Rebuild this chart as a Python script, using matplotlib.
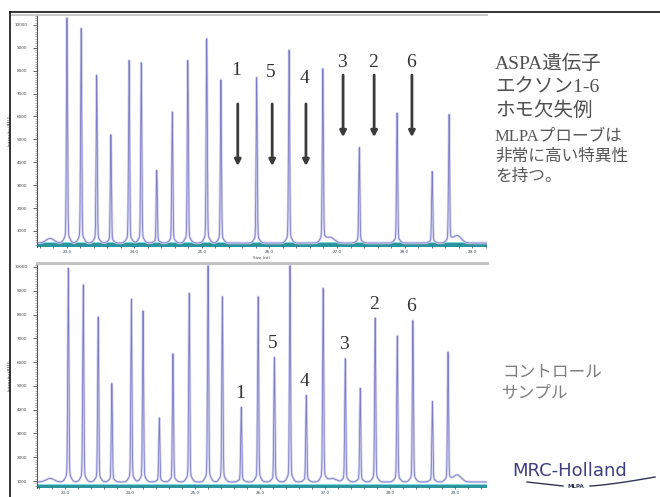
import numpy as np
import matplotlib.pyplot as plt
from matplotlib.lines import Line2D
from matplotlib.ticker import MultipleLocator, FixedLocator

# MLPA probe peaks, patient sample (ASPA exons 1-6 missing)
pat_pos = [23.00, 23.21, 23.44, 23.65, 23.92, 24.10, 24.33, 24.56, 24.79, 25.07, 25.28,
           25.81, 26.29, 26.79, 27.33, 27.89, 28.41, 28.66]
pat_height = [10300, 9850, 7800, 5200, 8450, 8350, 3650, 6200, 8450, 9400, 7600,
              7700, 8900, 8050, 4650, 6150, 3600, 6050]
pat_baseline = 476
# small bumps on the baseline
pat_minor_pos = [22.75, 26.90, 28.78]
pat_minor_height = [200, 250, 330]

# where the deleted exon probes would sit
del_exons = ['1', '5', '4', '3', '2', '6']
del_pos = [25.53, 26.04, 26.54, 27.09, 27.55, 28.11]

# MLPA probe peaks, control sample
ctrl_pos = [23.05, 23.28, 23.51, 23.72, 24.02, 24.20, 24.45, 24.66, 24.91, 25.20, 25.42,
            25.71, 25.97, 26.22, 26.46, 26.71, 26.97, 27.31, 27.54, 27.77, 28.11, 28.35,
            28.65, 28.89]
ctrl_height = [9950, 9250, 7900, 5100, 8650, 8150, 3650, 6350, 8900, 10050, 8750,
               4100, 8750, 6200, 10050, 4600, 9100, 6150, 4900, 7850, 7100, 7750,
               4350, 6400]
ctrl_baseline = 960
ctrl_minor_pos = [22.77, 27.11, 29.03]
ctrl_minor_height = [150, 150, 300]
ctrl_exons = ['1', '5', '4', '3', '2', '6']
ctrl_exon_peak = [11, 13, 15, 17, 19, 21]

y_ticks = [1000, 2000, 3000, 4000, 5000, 6000, 7000, 8000, 9000, 10000]
x_ticks = [23, 24, 25, 26, 27, 28, 29]


def trace(x, pos, height, base, mpos, mheight, unit):
    y = np.full_like(x, float(base))
    s1 = 0.55 / unit
    s2 = 2.5 / unit
    for p, h in zip(pos, height):
        a = h - base
        y += a * (0.96 * np.exp(-(x - p) ** 2 / (2 * s1 ** 2)) +
                  0.04 * np.exp(-(x - p) ** 2 / (2 * s2 ** 2)))
    for p, h in zip(mpos, mheight):
        y += h * np.exp(-(x - p) ** 2 / (2 * (4.0 / unit) ** 2))
    return y


def style_axis(ax, band_y):
    ax.spines['top'].set_visible(False)
    ax.spines['right'].set_visible(False)
    ax.spines['bottom'].set_visible(False)
    ax.spines['left'].set_color('#555555')
    ax.spines['left'].set_linewidth(0.8)
    ax.yaxis.set_major_locator(FixedLocator(y_ticks))
    ax.set_yticklabels([str(v) for v in y_ticks])
    ax.yaxis.set_minor_locator(MultipleLocator(100))
    ax.xaxis.set_major_locator(FixedLocator(x_ticks))
    ax.set_xticklabels(['%.1f' % v for v in x_ticks])
    ax.xaxis.set_minor_locator(MultipleLocator(0.2))
    ax.tick_params(axis='y', which='major', length=3, width=0.6, labelsize=3,
                   colors='#444444', pad=4)
    ax.tick_params(axis='y', which='minor', length=1.5, width=0.4, colors='#777777')
    ax.tick_params(axis='x', which='both', length=2, width=0.5, direction='inout',
                   labelsize=3, colors='#334455', pad=1.5)
    # teal baseline band
    ax.axhline(band_y, color='#8ae0e7', lw=5.0, zorder=1)
    ax.axhline(band_y, color='#2a959d', lw=3.0, zorder=1)


def draw_trace(ax, x, y):
    ax.plot(x, y, color='#d4d4f2', lw=1.8, zorder=2, solid_joinstyle='round')
    ax.plot(x, y, color='#7c7cc6', lw=0.6, zorder=3)


fig = plt.figure(figsize=(6.6, 4.97), dpi=100)

# patient panel
ax1 = fig.add_axes([37 / 660, 1 - 247 / 497, 450 / 660, 233 / 497])
x1 = np.linspace(22.556, 29.222, 8000)
y1 = trace(x1, pat_pos, pat_height, pat_baseline, pat_minor_pos, pat_minor_height, 67.5)
draw_trace(ax1, x1, y1)
ax1.set_xlim(22.556, 29.222)
ax1.set_ylim(301, 10476)
style_axis(ax1, 367)
ax1.set_ylabel('Intensity (RFU)', fontsize=3, color='#444444', labelpad=2)
ax1.set_xlabel('Size (nt)', fontsize=3, color='#444444', labelpad=1)

arrow_from = [6550, 6550, 6550, 7810, 7810, 7810]
arrow_to = [3840, 3840, 3840, 5100, 5100, 5100]
label_y = [8030, 7900, 7680, 8340, 8340, 8340]
for lab, p, a0, a1, ly in zip(del_exons, del_pos, arrow_from, arrow_to, label_y):
    ax1.annotate('', xy=(p, a1), xytext=(p, a0),
                 arrowprops=dict(arrowstyle='-|>,head_length=0.35,head_width=0.18',
                                 lw=2.0, color='#3a3a3a', shrinkA=0, shrinkB=0))
    ax1.text(p - 0.02, ly, lab, fontsize=14, family='Liberation Serif',
             color='#333333', ha='center', va='center')

# control panel
ax2 = fig.add_axes([37 / 660, 1 - 488 / 497, 450 / 660, 225 / 497])
x2 = np.linspace(22.569, 29.49, 8000)
y2 = trace(x2, ctrl_pos, ctrl_height, ctrl_baseline, ctrl_minor_pos, ctrl_minor_height, 65.0)
draw_trace(ax2, x2, y2)
ax2.set_xlim(22.569, 29.49)
ax2.set_ylim(706, 10167)
style_axis(ax2, 769)
ax2.spines['top'].set_visible(True)
ax2.spines['top'].set_color('#c4c4c4')
ax2.spines['top'].set_linewidth(2.2)
ax2.set_ylabel('Intensity (RFU)', fontsize=3, color='#444444', labelpad=2)

for lab, i in zip(ctrl_exons, ctrl_exon_peak):
    ax2.annotate(lab, xy=(ctrl_pos[i], ctrl_height[i]), xytext=(-1, 4),
                 textcoords='offset points', fontsize=14, family='Liberation Serif',
                 color='#333333', ha='center', va='bottom')

# outer frame
fig.add_artist(Line2D([10 / 660, 1], [1 - 12 / 497] * 2, transform=fig.transFigure,
                      color='#111111', lw=1.2))
fig.add_artist(Line2D([12 / 660, 487 / 660], [1 - 14.5 / 497] * 2, transform=fig.transFigure,
                      color='#c8c8c8', lw=1.4))
fig.add_artist(Line2D([10 / 660] * 2, [1 - 12 / 497, 0], transform=fig.transFigure,
                      color='#111111', lw=1.2))

mixed = ['Liberation Serif', 'Noto Sans CJK JP']
for txt, py in zip(['ASPA遺伝子', 'エクソン1-6', 'ホモ欠失例'], [64, 88, 111]):
    fig.text(495 / 660, 1 - py / 497, txt, fontsize=14, family=mixed,
             color='#505050', va='center', ha='left')
for txt, py in zip(['MLPAプローブは', '非常に高い特異性', 'を持つ。'], [136, 157, 177]):
    fig.text(495 / 660, 1 - py / 497, txt, fontsize=12, family=mixed,
             color='#585858', va='center', ha='left')
for txt, py in zip(['コントロール', 'サンプル'], [372, 393]):
    fig.text(502 / 660, 1 - py / 497, txt, fontsize=12, family='Noto Sans CJK JP',
             color='#7d7d7d', va='center', ha='left')

# MRC-Holland logo
fig.text(570 / 660, 1 - 471 / 497, 'MRC-Holland', fontsize=13, family='DejaVu Sans',
         color='#3d3d80', ha='center', va='center')
sx = np.linspace(527, 563, 30)
fig.add_artist(Line2D(sx / 660, 1 - (482 + 4 * (sx - 527) / 36) / 497,
                      transform=fig.transFigure, color='#333355', lw=1.0))
sx = np.linspace(590, 655, 40)
fig.add_artist(Line2D(sx / 660, 1 - (486 - 9 * ((sx - 590) / 65) ** 1.3) / 497,
                      transform=fig.transFigure, color='#333355', lw=1.0))
fig.text(576 / 660, 1 - 486 / 497, 'MLPA', fontsize=4, family='DejaVu Sans',
         color='#333355', ha='center', va='center', weight='bold')

fig.savefig('out.png', dpi=100)
